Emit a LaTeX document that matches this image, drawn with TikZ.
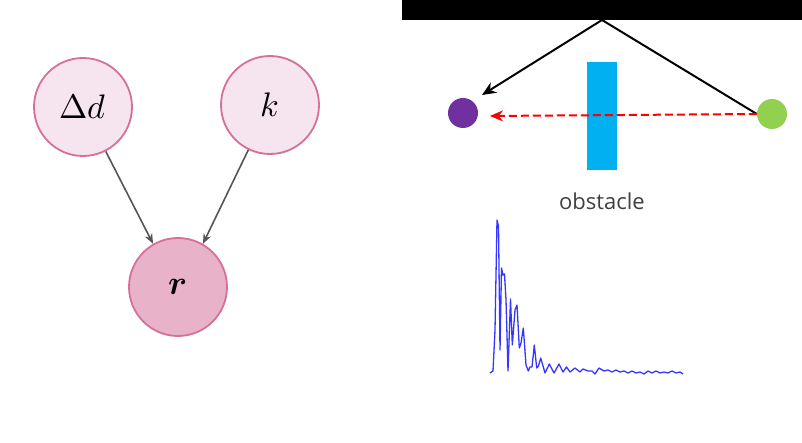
\documentclass[tikz,border=0pt]{standalone}
\usepackage{fontspec}
\usepackage{unicode-math}
\setmathfont{Latin Modern Math}
\newfontfamily\obsfont{Open Sans}
\usetikzlibrary{arrows.meta}
\definecolor{nodefill}{HTML}{F6E4EE}
\definecolor{nodedraw}{HTML}{D6709A}
\definecolor{rfill}{HTML}{E8B3C9}
\definecolor{edgegray}{HTML}{555555}
\definecolor{purp}{HTML}{7030A0}
\definecolor{grn}{HTML}{92D050}
\definecolor{obsblue}{HTML}{00B0F0}
\definecolor{sigblue}{HTML}{3535FF}
\tikzset{
  var/.style={circle, draw=nodedraw, line width=1.8pt, fill=nodefill, minimum size=98pt, inner sep=0pt, font=\fontsize{34}{40}\selectfont},
  obs/.style={var, fill=rfill},
  edge/.style={draw=edgegray, line width=1.6pt, -{Stealth[length=10pt,width=8pt]}},
  dot/.style={circle, minimum size=30pt, inner sep=0pt},
}
\begin{document}
\begin{tikzpicture}[x=1pt,y=-1pt]
\useasboundingbox (0,0) rectangle (802,443);
% left graph
\node[var] (d) at (83,107) {$\Delta d$};
\node[var] (k) at (270,105) {$k$};
\node[obs] (r) at (178,287) {$\symbfit{r}$};
\draw[edge] (d) -- (r.120);
\draw[edge] (k) -- (r.60);
% right scene
\fill[black] (402,0) rectangle (802,20);
\coordinate (refl) at (602,20);
\coordinate (rxtip) at (482,95);
\coordinate (rxdash) at (490,116);
\node[dot, fill=purp] (rx) at (463,113) {};
\node[dot, fill=grn] (tx) at (772,114) {};
\fill[obsblue] (587,62) rectangle (617,170);
\node[font=\obsfont\fontsize{22}{26}\selectfont, text=black!75] (lbl) at (602,201) {obstacle};
\draw[line width=2pt] (tx.west) -- (refl);
\draw[line width=2pt, -{Stealth[length=14pt,width=12pt]}] (refl) -- (rxtip);
\draw[red, line width=2pt, dash pattern=on 8pt off 4pt, -{Stealth[length=13pt,width=11pt]}] (tx.west) -- (rxdash);
% signal
\draw[sigblue, line width=1.3pt, line join=round]
 (490,373) -- (493,371) -- (495,330) -- (497,220) -- (498.5,226) -- (500,350)
 -- (501.5,268) -- (503,275) -- (504.5,274) -- (506,300) -- (508,371) -- (510.5,299)
 -- (512.3,345) -- (515,310) -- (517,305) -- (519.3,348) -- (521,343) -- (523.3,328)
 -- (526,365) -- (528.3,371) -- (530,367) -- (532,367) -- (534.3,345) -- (536.7,368)
 -- (538.5,366) -- (540.7,358) -- (545,373) -- (549.3,364) -- (554,373) -- (559,364)
 -- (563,372) -- (566.5,367) -- (570,372) -- (575,368) -- (580,372) -- (583,369)
 -- (588,371) -- (592,371) -- (595,374) -- (599,368) -- (604,371) -- (608,370)
 -- (612,372) -- (616,370) -- (620,372) -- (624,371) -- (628,373) -- (632,371)
 -- (636,373) -- (640,372) -- (644,374) -- (648,371) -- (652,373) -- (656,371)
 -- (660,373) -- (664,372) -- (668,373) -- (672,371) -- (676,373) -- (680,372) -- (683,374);
\end{tikzpicture}
\end{document}
